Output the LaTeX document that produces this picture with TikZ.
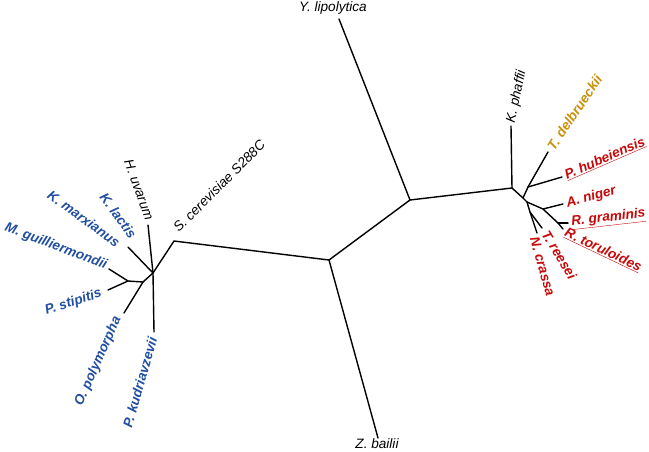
\documentclass[tikz,border=0pt]{standalone}
\usepackage{fontspec}
\setmainfont{Liberation Sans}
\definecolor{tblue}{RGB}{32,78,160}
\definecolor{tred}{RGB}{200,8,8}
\definecolor{tgold}{RGB}{200,144,12}
\begin{document}
\begin{tikzpicture}[x=1pt,y=-1pt,
  br/.style={line width=1.4pt,line cap=round,line join=round},
  lab/.style={font=\fontsize{13.6}{13.6}\selectfont\itshape,inner sep=0.5pt},
  blab/.style={lab,font=\fontsize{13.6}{13.6}\selectfont\bfseries\itshape,text=tblue},
  rlab/.style={lab,font=\fontsize{13.6}{13.6}\selectfont\bfseries\itshape,text=tred},
  glab/.style={lab,font=\fontsize{13.6}{13.6}\selectfont\bfseries\itshape,text=tgold}]
\useasboundingbox (0,0) rectangle (649,451);
% internal nodes
\coordinate (A) at (410,200);
\coordinate (B) at (512,188);
\coordinate (C) at (329,260);
\coordinate (D) at (174,241);
\coordinate (E) at (153,273);
\coordinate (F) at (143,282);
\coordinate (G) at (128,281);
\coordinate (H) at (523,198);
\coordinate (I) at (528,187);
\coordinate (L) at (527,202);
\coordinate (J) at (543,209);
\coordinate (K) at (558,223);
\coordinate (M) at (530,212);
% tips
\coordinate (Yt) at (339,19);
\coordinate (Zt) at (378,438);
\coordinate (HUt) at (148,225);
\coordinate (PKt) at (154,332);
\coordinate (KLt) at (128,247);
\coordinate (MGt) at (109,269);
\coordinate (PSt) at (108,290);
\coordinate (OPt) at (124,313);
\coordinate (KPt) at (511,126);
\coordinate (TDt) at (548,152);
\coordinate (PHt) at (562,177);
\coordinate (ANt) at (563,204);
\coordinate (RGt) at (568,223);
\coordinate (RTt) at (563,229);
\coordinate (TRt) at (542,228);
\coordinate (NCt) at (537,233);
% branches
\draw[br] (Yt) -- (A) -- (B);
\draw[br] (A) -- (C) -- (Zt);
\draw[br] (C) -- (D) -- (E);
\draw[br] (HUt) -- (E) -- (PKt);
\draw[br] (KLt) -- (E) -- (F) -- (G);
\draw[br] (MGt) -- (G) -- (PSt);
\draw[br] (F) -- (OPt);
\draw[br] (KPt) -- (B) -- (H) -- (I) -- (TDt);
\draw[br] (I) -- (PHt);
\draw[br] (H) -- (L) -- (J) -- (K) -- (RTt);
\draw[br] (J) -- (ANt);
\draw[br] (K) -- (RGt);
\draw[br] (L) -- (M) -- (NCt);
\draw[br] (M) -- (TRt);
% labels
\node[lab] (lY) at (333,8) {Y. lipolytica};
\node[lab] (lZ) at (377,444) {Z. bailii};
\node[lab,anchor=east,rotate=-70] (lHU) at (150,220) {H. uvarum};
\node[lab,anchor=west,rotate=45] (lSC) at (175,230) {S. cerevisiae S288C};
\node[blab,anchor=east,rotate=-54] (lKL) at (134,237) {K. lactis};
\node[blab,anchor=east,rotate=-36] (lKM) at (119,244) {K. marxianus};
\node[blab,anchor=east,rotate=-21] (lMG) at (107,266) {M. guilliermondii};
\node[blab,anchor=east,rotate=18] (lPS) at (102,293) {P. stipitis};
\node[blab,anchor=east,rotate=66] (lOP) at (118,317) {O. polymorpha};
\node[blab,anchor=east,rotate=74] (lPK) at (153,337) {P. kudriavzevii};
\node[lab,anchor=west,rotate=78] (lKP) at (511,123) {K. phaffii};
\node[glab,anchor=west,rotate=56] (lTD) at (550,149) {T. delbrueckii};
\node[rlab,anchor=west,rotate=23.5] (lPH) at (565,176) {\underline{P. hubeiensis}};
\node[rlab,anchor=west,rotate=15] (lAN) at (566,204) {A. niger};
\node[rlab,anchor=west,rotate=6.5] (lRG) at (571,223) {\underline{R. graminis}};
\node[rlab,anchor=west,rotate=-25.5] (lRT) at (565,232) {\underline{R. toruloides}};
\node[rlab,anchor=west,rotate=-59] (lTR) at (545,231) {T. reesei};
\node[rlab,anchor=west,rotate=-74] (lNC) at (534,237) {N. crassa};
\end{tikzpicture}
\end{document}
